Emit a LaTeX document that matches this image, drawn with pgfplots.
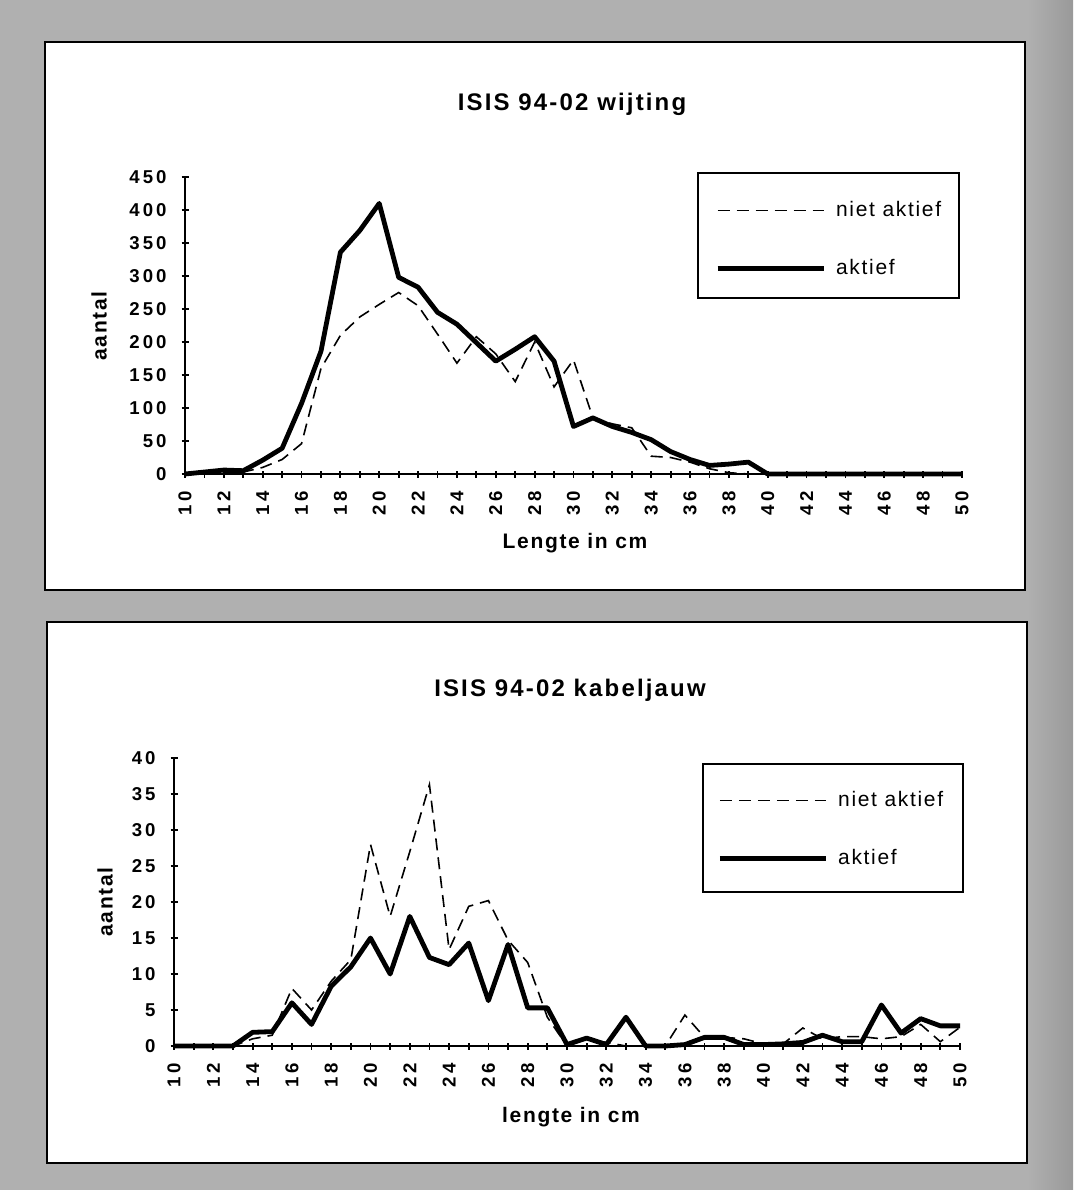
\documentclass[border=0pt]{standalone}
\usepackage{fontspec}
\usepackage{pgfplots}
\usepackage{pgfplotstable}
\pgfplotsset{compat=1.18}
\setmainfont{Liberation Sans}
\newfontfamily\wfont{Liberation Sans}[LetterSpace=8]
\newfontfamily\hfont{Liberation Sans}[LetterSpace=9]
\newfontfamily\tfont{Liberation Sans}[LetterSpace=16]
\definecolor{bg}{gray}{0.69}
\definecolor{bgdark}{gray}{0.6}

\pgfplotstableread{
x akt niet
10 0 0
11 3 2
12 6 3
13 5 3
14 21 10
15 39 22
16 107 46
17 186 160
18 336 210
19 369 238
20 410 257
21 298 275
22 283 255
23 245 212
24 227 168
25 199 208
26 171 182
27 189 140
28 208 200
29 171 132
30 72 173
31 85 85
32 72 76
33 63 70
34 52 27
35 34 25
36 22 18
37 13 8
38 15 2
39 18 0
40 0 0
41 0 0
42 0 0
43 0 0
44 0 0
45 0 0
46 0 0
47 0 0
48 0 0
49 0 0
50 0 0
}\wijting

\pgfplotstableread{
x akt niet
10 0 0
11 0 0
12 0 0
13 0 0
14 1.9 1
15 2 1.5
16 6 8
17 3 5
18 8.3 9
19 11 12
20 15 28
21 10 18
22 18 27
23 12.3 36.3
24 11.3 13.4
25 14.3 19.4
26 6.3 20.2
27 14.1 14.7
28 5.3 11.6
29 5.3 4
30 0.2 0
31 1.1 1
32 0.2 0.5
33 4 0
34 0 0
35 0 0
36 0.2 4.3
37 1.2 1.2
38 1.2 1.2
39 0.2 1
40 0.2 0.3
41 0.3 0.3
42 0.5 2.5
43 1.5 1
44 0.6 1.3
45 0.6 1.3
46 5.7 1
47 1.8 1.3
48 3.8 3
49 2.8 0.6
50 2.8 2.6
}\kabeljauw

\pgfplotsset{chart/.style={
  scale only axis, clip=false,
  axis lines=left, axis line style={-, line width=1pt},
  xmin=10, xmax=50, ymin=0,
  xtick={10,12,...,50}, minor xtick={11,13,...,49},
  tick align=center, major tick length=3.5pt, minor tick length=3.5pt,
  every tick/.style={black, line width=0.9pt},
  every minor tick/.style={black, line width=0.9pt},
  /pgf/number format/assume math mode=true,
  tick label style={font=\tfont\bfseries\fontsize{9.3}{11}\selectfont},
  xticklabel style={rotate=90, anchor=east, xshift=-3.5pt},
  yticklabel style={xshift=-4pt},
  legend image code/.code={\draw[##1] (0pt,0pt) -- (53pt,0pt);},
  legend style={draw=none, fill=none, inner sep=0pt, row sep=16pt,
    font=\wfont\fontsize{10.5}{12}\selectfont, cells={anchor=west},
    nodes={inner xsep=5pt}},
  legend cell align=left,
}}
\tikzset{akt/.style={black, line width=2.4pt, line join=round},
         niet/.style={black, line width=0.8pt, dash pattern=on 6pt off 3.5pt}}

\begin{document}
\begin{tikzpicture}
\fill[bg] (0pt,0pt) rectangle (536.5pt,-595pt);
\shade[left color=bg, right color=bgdark] (514pt,0pt) rectangle (536.5pt,-595pt);
\draw[line width=1.3pt, fill=white] (22.5pt,-21pt) rectangle (512.5pt,-295pt);
\draw[line width=1.3pt, fill=white] (23.5pt,-311pt) rectangle (513.5pt,-581.5pt);
% top texts
\node[font=\hfont\bfseries\fontsize{12}{14}\selectfont] at (286pt,-52pt) {ISIS 94-02 wijting};
\node[font=\wfont\bfseries\fontsize{10.5}{12}\selectfont, rotate=90] at (49.5pt,-163pt) {aantal};
\node[font=\wfont\bfseries\fontsize{10.5}{12}\selectfont] at (287.5pt,-271.5pt) {Lengte in cm};
\draw[line width=1pt] (349pt,-86.5pt) rectangle (479.5pt,-149pt);
% bottom texts
\node[font=\hfont\bfseries\fontsize{12}{14}\selectfont] at (285pt,-345pt) {ISIS 94-02 kabeljauw};
\node[font=\wfont\bfseries\fontsize{10.5}{12}\selectfont, rotate=90] at (52.5pt,-451pt) {aantal};
\node[font=\wfont\bfseries\fontsize{10.5}{12}\selectfont] at (285.5pt,-558.5pt) {lengte in cm};
\draw[line width=1pt] (351.5pt,-382pt) rectangle (481.5pt,-446pt);

\begin{axis}[chart, at={(92.5pt,-237pt)}, anchor=south west,
  width=388.5pt, height=148.5pt, ymax=450, ytick={0,50,...,450},
  legend style={at={(0.682,0.7896)}, anchor=west}]
\addplot[niet] table[x=x, y=niet] {\wijting};
\addlegendentry{niet aktief}
\addplot[akt] table[x=x, y=akt] {\wijting};
\addlegendentry{aktief}
\end{axis}

\begin{axis}[chart, at={(87pt,-523pt)}, anchor=south west,
  width=393pt, height=144pt, ymax=40, ytick={0,5,...,40},
  legend style={at={(0.6908,0.7517)}, anchor=west}]
\addplot[niet] table[x=x, y=niet] {\kabeljauw};
\addlegendentry{niet aktief}
\addplot[akt] table[x=x, y=akt] {\kabeljauw};
\addlegendentry{aktief}
\end{axis}
\end{tikzpicture}
\end{document}
